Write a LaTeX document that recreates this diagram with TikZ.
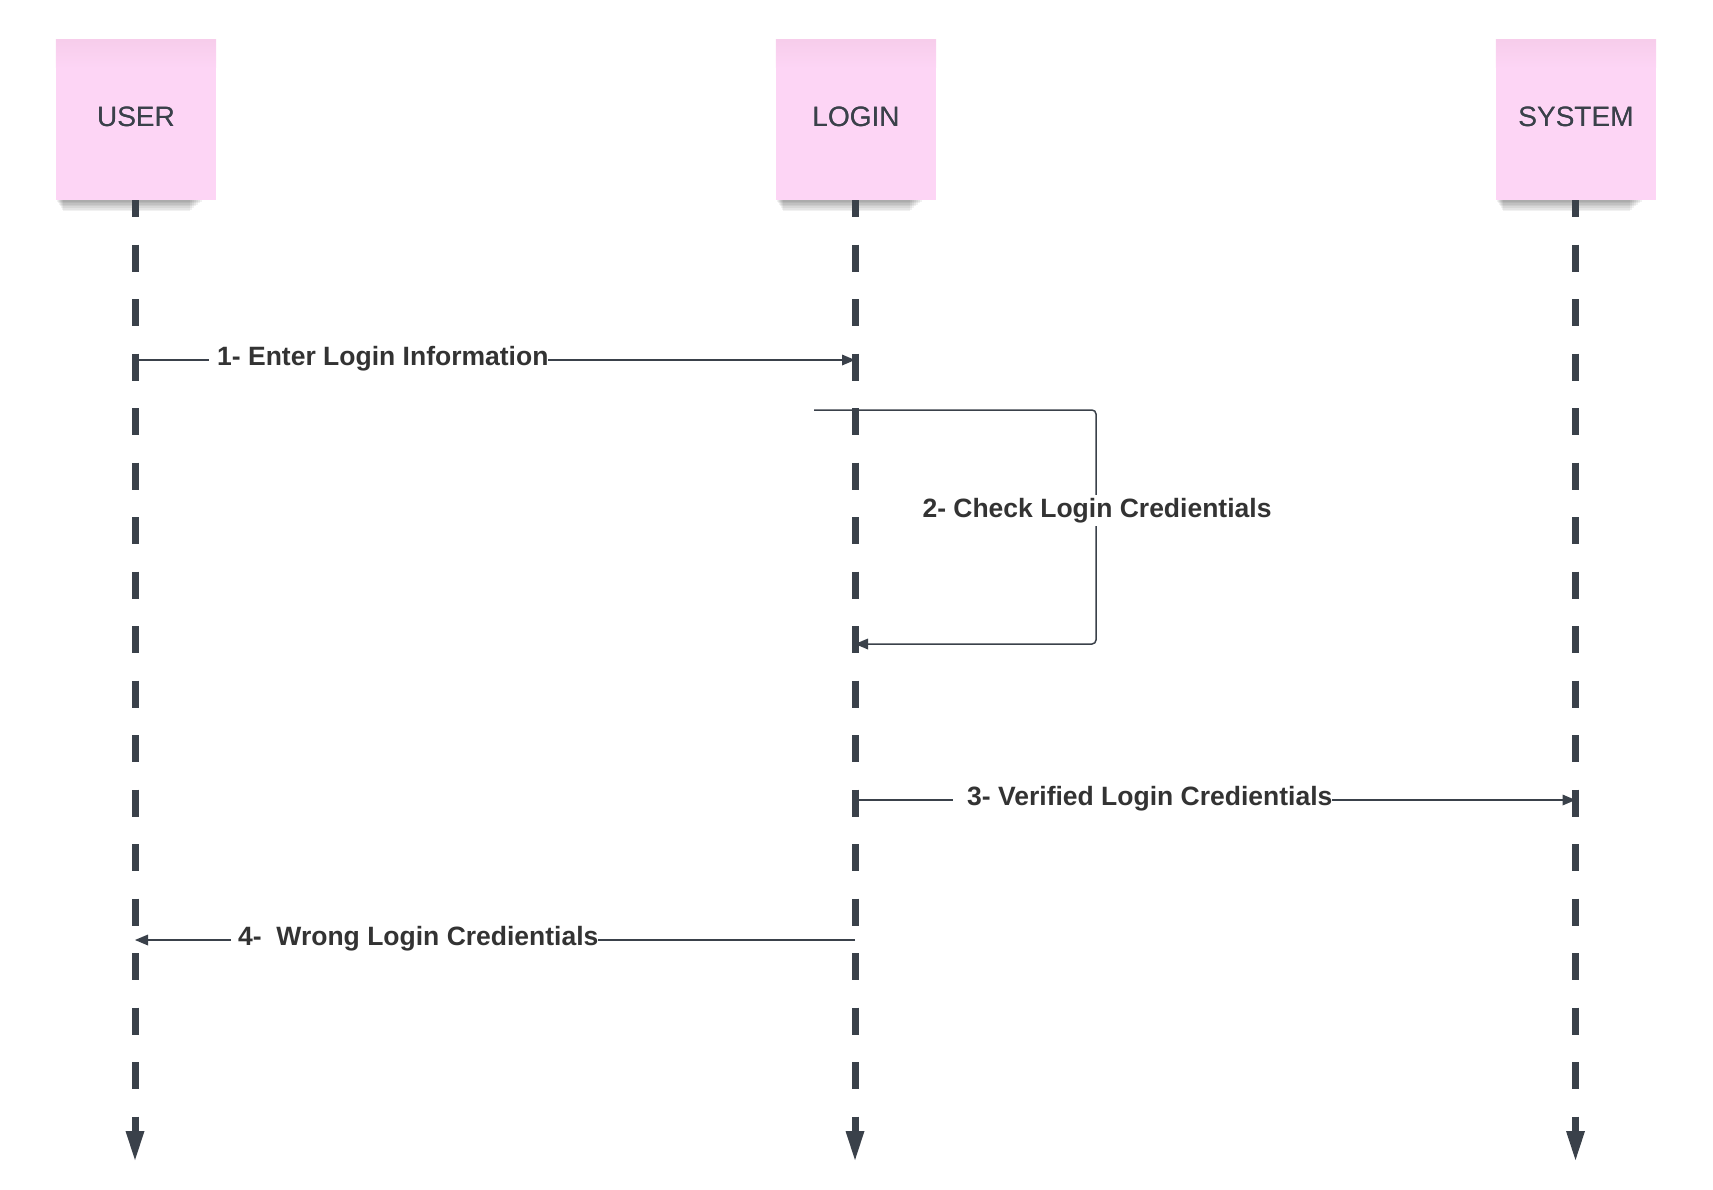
\documentclass[tikz,border=0pt]{standalone}
\usepackage{fontspec}
\setmainfont{Liberation Sans}
\usetikzlibrary{arrows.meta}
\definecolor{ink}{HTML}{3A414A}
\definecolor{txt}{HTML}{333333}
\definecolor{pinkA}{RGB}{253,213,245}
\definecolor{pinkB}{RGB}{247,205,235}
\tikzset{
  actor/.style={minimum width=160pt, minimum height=160pt, inner sep=0pt, fill=pinkA,
    font=\fontsize{28}{32}\selectfont, text=ink, text height=20pt, text depth=8pt},
  life/.style={ink, line width=7pt, dash pattern=on 27.25pt off 27.25pt, dash phase=10pt,
    -{Triangle[length=29pt,width=19pt,line width=0pt]}},
  msg/.style={ink, line width=2pt, -{Triangle[length=13pt,width=11pt,line width=0pt]}},
  selfmsg/.style={ink, line width=1.5pt, rounded corners=4pt, -{Triangle[length=13pt,width=11pt,line width=0pt]}},
  lbl/.style={font=\bfseries\fontsize{26.5}{30}\selectfont, text=txt, fill=white, inner xsep=0pt, inner ysep=3pt},
}
\begin{document}
\begin{tikzpicture}[x=1pt,y=-1pt]
\useasboundingbox (0,0) rectangle (1713,1189);
% actor boxes
\foreach \nm/\cx/\tx in {user/136/USER, login/856/LOGIN, system/1576/SYSTEM}{
  \foreach \i in {1,...,7}{
    \fill[black, opacity=0.055] (\cx-80+\i,200) rectangle (\cx+68-2*\i,200+1.6*\i);
  }
  \node[actor] (\nm) at (\cx,120) {\tx};
  \shade[top color=pinkB, bottom color=pinkA] (\nm.north west) rectangle ([yshift=-28pt]\nm.north east);
  \node[actor, fill=none] at (\nm.center) {\tx};
}
% lifeline anchor points
\coordinate (ustart) at (135,200);
\coordinate (lstart) at (855,200);
\coordinate (sstart) at (1575.5,200);
\coordinate (uend) at (135,1160);
\coordinate (lend) at (855,1160);
\coordinate (send) at (1575.5,1160);
\coordinate (u1) at (135,360);
\coordinate (l1) at (855,360);
\coordinate (l2s) at (814,410);
\coordinate (l2a) at (1096,410);
\coordinate (l2b) at (1096,644);
\coordinate (l2e) at (855,644);
\coordinate (l3) at (855,800);
\coordinate (s3) at (1575.5,800);
\coordinate (l4) at (855,940);
\coordinate (u4) at (135,940);
% messages
\draw[msg] (u1) -- (l1);
\node[lbl, anchor=base west] (m1) at (209,365) {\hspace{8pt}1- Enter Login Information\hspace{2pt}};
\draw[selfmsg] (l2s) -- (l2a) -- (l2b) -- (l2e);
\node[lbl, anchor=base, inner xsep=2pt] (m2) at (1097,517) {2- Check Login Credientials};
\draw[msg] (l3) -- (s3);
\node[lbl, anchor=base west] (m3) at (953,805) {\hspace{14pt}3- Verified Login Credientials\hspace{1pt}};
\draw[msg] (l4) -- (u4);
\node[lbl, anchor=base west] (m4) at (231,945) {\hspace{7pt}4-\ \ Wrong Login Credientials\hspace{1pt}};
% lifelines
\draw[life] (ustart) -- (uend);
\draw[life] (lstart) -- (lend);
\draw[life] (sstart) -- (send);
\end{tikzpicture}
\end{document}
